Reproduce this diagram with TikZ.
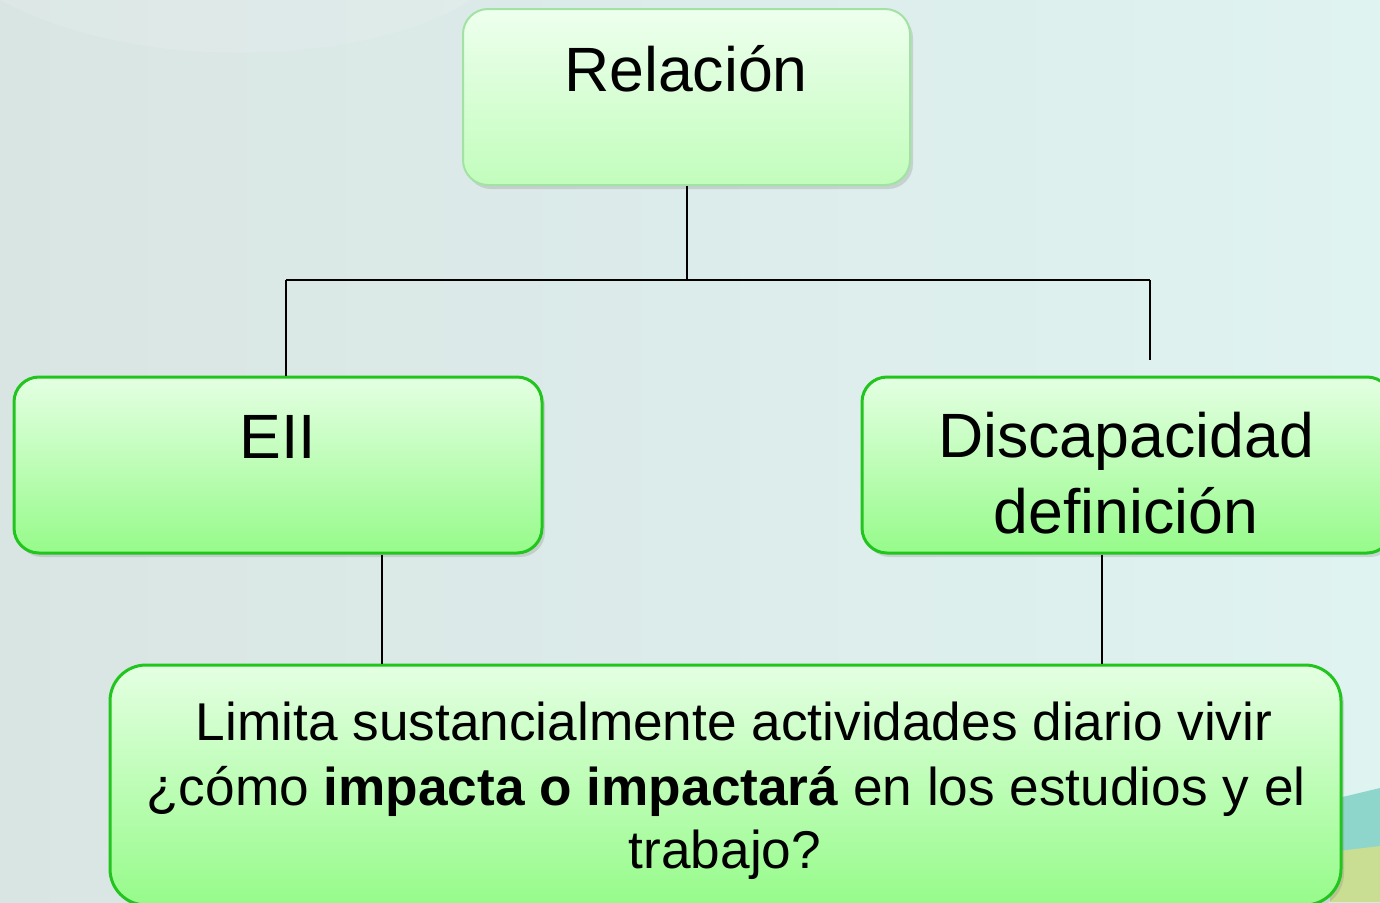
\documentclass[tikz,border=0pt]{standalone}
\usepackage{fontspec}
\setmainfont{Liberation Sans}
\usetikzlibrary{shadows}
\definecolor{bgL}{HTML}{D9E5E3}
\definecolor{bgR}{HTML}{DFF3F1}
\definecolor{relTop}{HTML}{EEFFEE}
\definecolor{relBot}{HTML}{C2FDBC}
\definecolor{relEdge}{HTML}{A2E2A2}
\definecolor{gTop}{HTML}{E4FFE2}
\definecolor{gBot}{HTML}{96FB8A}
\definecolor{gEdge}{HTML}{22C41E}
\definecolor{teal}{HTML}{8ED6CB}
\definecolor{olive}{HTML}{C9DD93}
\tikzset{
  boxbase/.style={rectangle, inner sep=0pt, rounded corners=12.5pt,
    drop shadow={opacity=0.25, shadow xshift=1.5pt, shadow yshift=-2pt}},
  relbox/.style={boxbase, draw=relEdge, line width=1pt, top color=relTop, bottom color=relBot},
  greenbox/.style={boxbase, draw=gEdge, line width=1.5pt, top color=gTop, bottom color=gBot},
  bigtxt/.style={font=\fontsize{31.3}{38}\selectfont, align=center, inner sep=0pt},
  smalltxt/.style={font=\fontsize{26.6}{32}\selectfont, align=center, inner sep=0pt},
  conn/.style={draw=black, line width=1pt}
}
\begin{document}
\begin{tikzpicture}[x=0.5pt,y=-0.5pt]
\useasboundingbox (0,0) rectangle (1380,902);
% background
\shade[left color=bgL, right color=bgR] (0,0) rectangle (1380,902);
\fill[white, opacity=0.12] (0,0) .. controls (150,80) and (380,60) .. (470,0) -- cycle;
\fill[teal] (1330,800) -- (1380,788) -- (1380,902) -- (1330,902) -- cycle;
\fill[olive] (1330,852) -- (1380,846) -- (1380,902) -- (1330,902) -- cycle;

% boxes
\node[relbox, minimum width=223.5pt, minimum height=88pt] (rel) at (686.5,97) {};
\node[greenbox, minimum width=264pt, minimum height=88pt] (eii) at (278,465) {};
\node[greenbox, minimum width=265pt, minimum height=88pt] (dis) at (1127,465) {};
\node[greenbox, rounded corners=18pt, minimum width=615.5pt, minimum height=120pt] (bot) at (725.5,785) {};

% texts
\node[bigtxt, anchor=base] (reltxt) at (686,91) {Relación};
\node[bigtxt, anchor=base] (eiitxt) at (278,458) {EII};
\node[bigtxt, anchor=base] (distxt) at (1126,457) {Discapacidad};
\node[bigtxt, anchor=base] (distxt2) at (1126,533) {definición};
\node[smalltxt, anchor=base] (bot1) at (734,740) {Limita sustancialmente actividades diario vivir};
\node[smalltxt, anchor=base] (bot2) at (726,805) {¿cómo \textbf{impacta o impactará} en los estudios y el};
\node[smalltxt, anchor=base] (bot3) at (725,868) {trabajo?};

% connectors
\coordinate (jl) at (286,280);
\coordinate (jr) at (1150,280);
\coordinate (rend) at (1150,360);
\coordinate (e1) at (382,0);
\coordinate (d1) at (1102,0);
\draw[conn] (rel.south) -- (rel.south |- jl);
\draw[conn] (jl) -- (jr);
\draw[conn] (jl) -- (jl |- eii.north);
\draw[conn] (jr) -- (rend);
\draw[conn] (eii.south -| e1) -- (bot.north -| e1);
\draw[conn] (dis.south -| d1) -- (bot.north -| d1);
\end{tikzpicture}
\end{document}
